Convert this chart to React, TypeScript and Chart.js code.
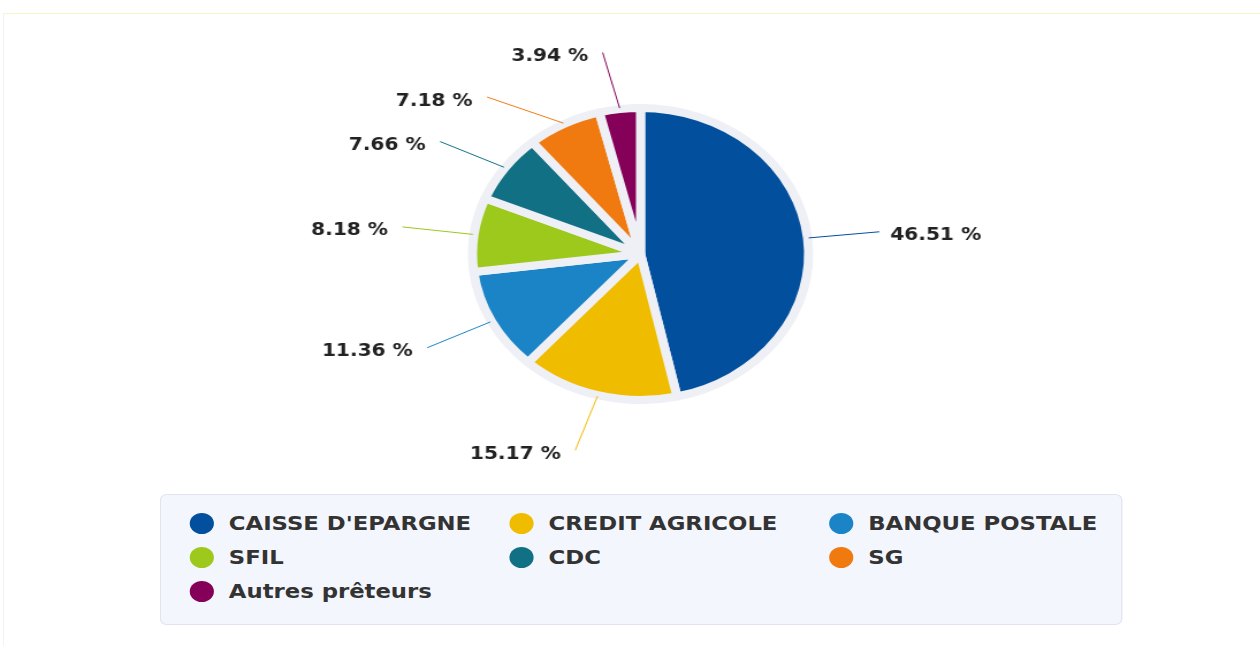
import React, { useEffect, useRef } from "react";
import { Chart, registerables } from "chart.js";

Chart.register(...registerables);

// ---- data ----
const categories: string[] = [
  "CAISSE D'EPARGNE",
  "CREDIT AGRICOLE",
  "BANQUE POSTALE",
  "SFIL",
  "CDC",
  "SG",
  "Autres prêteurs",
];
const shares: number[] = [46.51, 15.17, 11.36, 8.18, 7.66, 7.18, 3.94];
const sliceColors: string[] = [
  "#024f9d",
  "#f0bc00",
  "#1a84c7",
  "#9dc81c",
  "#117083",
  "#f07a10",
  "#850058",
];

// ---- layout (local, unstretched coordinates) ----
const SX = 1.15;
const W = 1260 / SX;
const H = 646;
const RING = "#eef0f6";
const LABEL_RX = 208.7;
const LABEL_RY = 203;
const LABEL_RY_X = 204;
const MIN_GAP = 44.5;
const CX = 556.5;
const CY = 254;

const ringPlugin = {
  id: "ring",
  beforeDatasetsDraw(chart: any) {
    const meta = chart.getDatasetMeta(0);
    const arc = meta.data[0];
    if (!arc) return;
    const { x, y, outerRadius } = arc.getProps(["x", "y", "outerRadius"], true);
    const ctx = chart.ctx;
    ctx.save();
    ctx.beginPath();
    ctx.arc(x, y, outerRadius + 3.5, 0, Math.PI * 2);
    ctx.fillStyle = RING;
    ctx.fill();
    ctx.restore();
  },
};

const labelPlugin = {
  id: "outLabels",
  afterDatasetsDraw(chart: any) {
    const meta = chart.getDatasetMeta(0);
    const ctx = chart.ctx;
    const items: any[] = [];
    meta.data.forEach((arc: any, i: number) => {
      const p = arc.getProps(["x", "y", "startAngle", "endAngle", "outerRadius"], true);
      const mid = (p.startAngle + p.endAngle) / 2;
      const right = Math.cos(mid) >= 0;
      items.push({
        i,
        cx: p.x,
        cy: p.y,
        mid,
        right,
        r0: p.outerRadius + 1,
        y: p.y + LABEL_RY * Math.sin(mid),
      });
    });
    [true, false].forEach((side) => {
      const group = items.filter((it) => it.right === side).sort((a, b) => a.y - b.y);
      for (let k = 1; k < group.length; k++) {
        if (group[k].y < group[k - 1].y + MIN_GAP) group[k].y = group[k - 1].y + MIN_GAP;
      }
    });
    ctx.save();
    items.forEach((it) => {
      const t = (it.y - it.cy) / LABEL_RY_X;
      const dx = LABEL_RX * Math.sqrt(Math.max(1 - t * t, 0));
      const ex = it.right ? it.cx + dx : it.cx - dx;
      const sx = it.cx + it.r0 * Math.cos(it.mid);
      const sy = it.cy + it.r0 * Math.sin(it.mid);
      ctx.beginPath();
      ctx.moveTo(sx, sy);
      ctx.lineTo(ex, it.y);
      ctx.strokeStyle = sliceColors[it.i];
      ctx.lineWidth = 1;
      ctx.stroke();
      ctx.font = "bold 17.5px 'DejaVu Sans'";
      ctx.fillStyle = "#222";
      ctx.textBaseline = "middle";
      const txt = shares[it.i].toFixed(2) + " %";
      if (it.right) {
        ctx.textAlign = "left";
        ctx.fillText(txt, ex + 9.5, it.y + 4);
      } else {
        ctx.textAlign = "right";
        ctx.fillText(txt, ex - 12.5, it.y + 4);
      }
    });
    ctx.restore();
  },
};

const LEG_LEFT = 139;
const LEG_TOP = 494;
const LEG_W = 837;
const LEG_H = 131;

export default function App() {
  const ref = useRef<HTMLCanvasElement>(null);
  useEffect(() => {
    const chart = new Chart(ref.current as HTMLCanvasElement, {
      type: "pie",
      data: {
        labels: categories,
        datasets: [
          {
            data: shares,
            backgroundColor: sliceColors,
            borderColor: RING,
            borderWidth: 8,
            offset: 0,
          } as any,
        ],
      },
      options: {
        animation: false,
        responsive: true,
        maintainAspectRatio: false,
        radius: 146,
        events: [],
        layout: {
          padding: { left: CX - 200, right: W - CX - 200, top: CY - 200, bottom: H - CY - 200 },
        },
        plugins: { legend: { display: false }, tooltip: { enabled: false } },
      } as any,
      plugins: [ringPlugin, labelPlugin],
    });
    return () => chart.destroy();
  }, []);

  return (
    <div style={{ position: "fixed", left: 0, top: 0, width: 1260, height: H, background: "#fff", overflow: "hidden" }}>
      <div
        style={{
          position: "absolute",
          left: 3,
          top: 13,
          right: 0,
          bottom: 0,
          borderTop: "1px solid #f6f6c8",
          borderLeft: "1px solid #f2f2f2",
        }}
      />
      <div
        style={{
          position: "absolute",
          left: 0,
          top: 0,
          width: W,
          height: H,
          transform: `scaleX(${SX})`,
          transformOrigin: "0 0",
        }}
      >
        <div style={{ position: "absolute", left: 0, top: 0, width: W, height: H }}>
          <canvas ref={ref} />
        </div>
        <div
          style={{
            position: "absolute",
            left: LEG_LEFT,
            top: LEG_TOP,
            width: LEG_W,
            height: LEG_H,
            boxSizing: "border-box",
            background: "#f4f6fd",
            border: "1px solid #dfe4f0",
            borderRadius: 6,
          }}
        >
          {categories.map((c, i) => {
            const col = i % 3;
            const row = Math.floor(i / 3);
            return (
              <div
                key={c}
                style={{
                  position: "absolute",
                  left: 25 + col * 278,
                  top: 11 + row * 34,
                  height: 34,
                  display: "flex",
                  alignItems: "center",
                  whiteSpace: "nowrap",
                  fontFamily: "'DejaVu Sans', sans-serif",
                  fontSize: 19.8,
                  fontWeight: "bold",
                  color: "#333",
                }}
              >
                <span
                  style={{
                    display: "inline-block",
                    width: 21,
                    height: 21,
                    borderRadius: "50%",
                    background: sliceColors[i],
                    marginRight: 13,
                    flex: "none",
                  }}
                />
                <span>{c}</span>
              </div>
            );
          })}
        </div>
      </div>
    </div>
  );
}
